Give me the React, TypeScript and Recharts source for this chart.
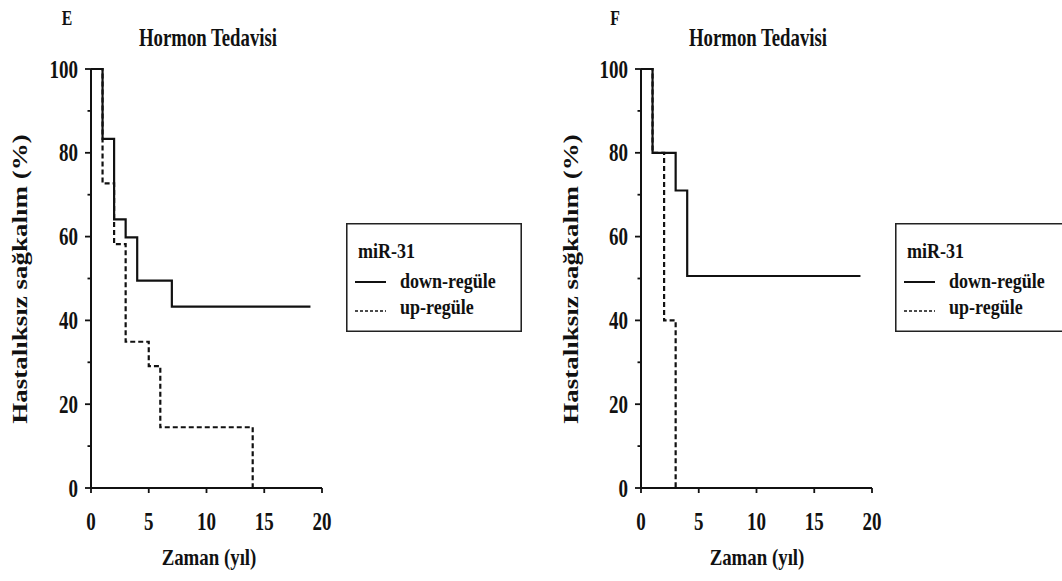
import React from "react";
import { LineChart, Line, XAxis, YAxis, Legend } from "recharts";

// Follow-up times (years) and disease-free survival (%) — panel E
const eDownTimes = [0, 1, 2, 3, 4, 7, 19];
const eDownSurvival = [100, 83.3, 64.1, 59.8, 49.5, 43.3, 43.3];
const eUpTimes = [0, 1, 2, 3, 5, 6, 14];
const eUpSurvival = [100, 72.7, 58.2, 34.9, 29.1, 14.5, 0];

// Panel F
const fDownTimes = [0, 1, 3, 4, 19];
const fDownSurvival = [100, 80, 71, 50.6, 50.6];
const fUpTimes = [0, 1, 2, 3];
const fUpSurvival = [100, 80, 40, 0];

const xTicks = [0, 5, 10, 15, 20];
const yTicks = [0, 10, 20, 30, 40, 50, 60, 70, 80, 90, 100];
const seriesNames = ["down-regüle", "up-regüle"];
const legendTitle = "miR-31";
const panelTitle = "Hormon Tedavisi";
const xLabel = "Zaman (yıl)";
const yLabel = "Hastalıksız sağkalım (%)";

const FONT = '"Liberation Serif", "Times New Roman", serif';
const INK = "#111";

const toRows = (times: number[], values: number[]) =>
  times.map((t, i) => ({ t, s: values[i] }));

const YTick = (props: any) => {
  const { x, y, payload } = props;
  const v = payload.value as number;
  const major = v % 20 === 0;
  return (
    <g>
      <line x1={x - (major ? 6 : 3.5)} x2={x} y1={y} y2={y} stroke={INK} strokeWidth={1.8} />
      {major && (
        <text
          transform={`translate(${x - 13},${y + 8.5}) scale(0.76,1)`}
          textAnchor="end"
          fontFamily={FONT}
          fontWeight="bold"
          fontSize={25}
          fill={INK}
        >
          {v}
        </text>
      )}
    </g>
  );
};

const XTick = (props: any) => {
  const { x, y, payload } = props;
  return (
    <g>
      <line x1={x} x2={x} y1={y} y2={y + 5} stroke={INK} strokeWidth={1.8} />
      <text
        transform={`translate(${x},${y + 42}) scale(0.76,1)`}
        textAnchor="middle"
        fontFamily={FONT}
        fontWeight="bold"
        fontSize={25}
        fill={INK}
      >
        {payload.value}
      </text>
    </g>
  );
};

// Boxed legend; an "open" box has no right side and runs on past the page edge.
const LegendBox = (props: any) => {
  const { payload, boxWidth = 176, open = false } = props;
  const W = boxWidth;
  const H = 109;
  const frame = open
    ? `M ${W} 0.75 H 0.75 V ${H - 0.75} H ${W}`
    : `M 0.75 0.75 H ${W - 0.75} V ${H - 0.75} H 0.75 Z`;
  return (
    <svg width={W} height={H} style={{ display: "block" }}>
      <path d={frame} fill="none" stroke="#222" strokeWidth={1.6} />
      <text
        transform="translate(12,35) scale(0.82,1)"
        fontFamily={FONT}
        fontWeight="bold"
        fontSize={22}
        fill={INK}
      >
        {legendTitle}
      </text>
      {(payload || []).map((entry: any, i: number) => {
        const dashed = !!(entry.payload && entry.payload.strokeDasharray);
        const lineY = i === 0 ? 59 : 88;
        const textY = i === 0 ? 65 : 91;
        return (
          <g key={entry.value}>
            <line
              x1={9}
              x2={40}
              y1={lineY}
              y2={lineY}
              stroke={INK}
              strokeWidth={dashed ? 1.5 : 2}
              strokeDasharray={dashed ? "3 2" : undefined}
            />
            <text
              transform={`translate(54,${textY}) scale(0.82,1)`}
              fontFamily={FONT}
              fontWeight="bold"
              fontSize={22}
              fill={INK}
            >
              {entry.value}
            </text>
          </g>
        );
      })}
    </svg>
  );
};

type PanelProps = {
  left: number;
  width: number;
  plotLeft: number;
  down: { t: number; s: number }[];
  up: { t: number; s: number }[];
  legendLeft: number;
  legendWidth: number;
  legendOpen: boolean;
};

const CHART_H = 581;
const PLOT_W = 231;
const PLOT_TOP = 69;
const PLOT_BOTTOM = 488;

const SurvivalPanel = ({ left, width, plotLeft, down, up, legendLeft, legendWidth, legendOpen }: PanelProps) => (
  <div style={{ position: "absolute", left, top: 0 }}>
    <LineChart
      width={width}
      height={CHART_H}
      margin={{
        top: PLOT_TOP,
        bottom: CHART_H - PLOT_BOTTOM - 1,
        left: plotLeft - 1,
        right: width - plotLeft - PLOT_W,
      }}
    >
      <XAxis
        type="number"
        dataKey="t"
        domain={[0, 20]}
        ticks={xTicks}
        interval={0}
        height={1}
        tickSize={0}
        tickMargin={0}
        tickLine={false}
        tick={<XTick />}
        axisLine={{ stroke: INK, strokeWidth: 2 }}
        allowDataOverflow
      />
      <YAxis
        type="number"
        domain={[0, 100]}
        ticks={yTicks}
        interval={0}
        width={1}
        tickSize={0}
        tickMargin={0}
        tickLine={false}
        tick={<YTick />}
        axisLine={{ stroke: INK, strokeWidth: 2 }}
      />
      <Line
        data={down}
        dataKey="s"
        name={seriesNames[0]}
        type="stepAfter"
        stroke={INK}
        strokeWidth={2.2}
        dot={false}
        isAnimationActive={false}
      />
      <Line
        data={up}
        dataKey="s"
        name={seriesNames[1]}
        type="stepAfter"
        stroke={INK}
        strokeWidth={2.2}
        strokeDasharray="5 3"
        dot={false}
        isAnimationActive={false}
      />
      <Legend
        layout="vertical"
        align="center"
        verticalAlign="middle"
        content={<LegendBox boxWidth={legendWidth} open={legendOpen} />}
        wrapperStyle={{ left: legendLeft, top: 223, width: legendWidth, height: 109, margin: 0 }}
      />
    </LineChart>
  </div>
);

const Annotations = ({ letterX, titleX, yLabelX, xLabelX, letter }: any) => (
  <g fontFamily={FONT} fontWeight="bold" fill={INK}>
    <text transform={`translate(${letterX},25) scale(0.75,1)`} textAnchor="middle" fontSize={21}>
      {letter}
    </text>
    <text transform={`translate(${titleX},46) scale(0.75,1)`} textAnchor="middle" fontSize={25}>
      {panelTitle}
    </text>
    <text transform={`translate(${xLabelX},565) scale(0.82,1)`} textAnchor="middle" fontSize={23}>
      {xLabel}
    </text>
    <text transform={`translate(${yLabelX},279) rotate(-90) scale(1,0.74)`} textAnchor="middle" fontSize={27}>
      {yLabel}
    </text>
  </g>
);

export default function App() {
  return (
    <div
      style={{
        position: "absolute",
        left: 0,
        top: 0,
        width: 1062,
        height: 581,
        overflow: "hidden",
        background: "#fff",
      }}
    >
      <SurvivalPanel
        left={0}
        width={531}
        plotLeft={91}
        down={toRows(eDownTimes, eDownSurvival)}
        up={toRows(eUpTimes, eUpSurvival)}
        legendLeft={346}
        legendWidth={176}
        legendOpen={false}
      />
      <SurvivalPanel
        left={531}
        width={600}
        plotLeft={110}
        down={toRows(fDownTimes, fDownSurvival)}
        up={toRows(fUpTimes, fUpSurvival)}
        legendLeft={364}
        legendWidth={220}
        legendOpen={true}
      />
      <svg
        width={1062}
        height={581}
        style={{ position: "absolute", left: 0, top: 0, pointerEvents: "none" }}
      >
        <Annotations letter="E" letterX={67} titleX={208} yLabelX={27} xLabelX={209} />
        <Annotations letter="F" letterX={615} titleX={758} yLabelX={578} xLabelX={757} />
      </svg>
    </div>
  );
}
